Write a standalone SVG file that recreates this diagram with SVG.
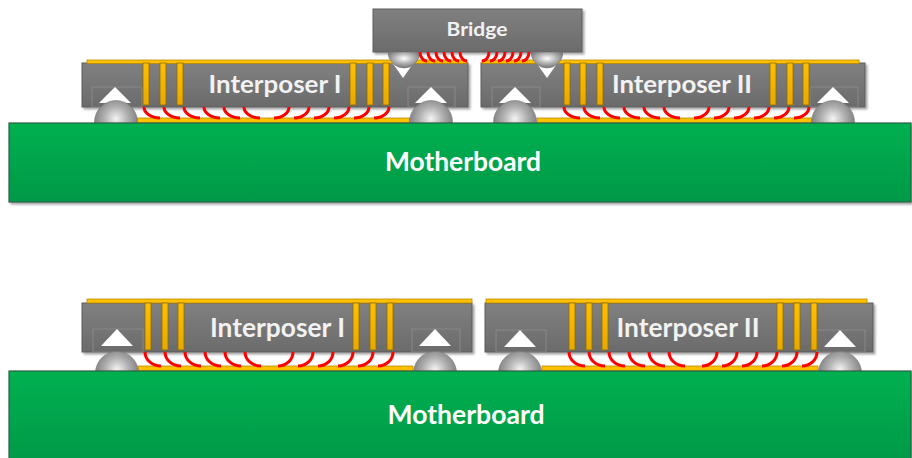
<svg xmlns="http://www.w3.org/2000/svg" width="912" height="458" viewBox="0 0 912 458">
  <defs>
    <style>
      .body { fill: url(#gBody); stroke: #5c5c5c; stroke-width: 1; filter: url(#sh); }
      .pad { fill: none; stroke: #8e8e8e; stroke-width: 0.8; }
      .strip { fill: #ffc000; stroke: #b88a00; stroke-width: 0.8; }
      .via { fill: url(#gVia); stroke: #8f6c00; stroke-width: 0.8; }
      .tri { fill: #ffffff; }
      .ball { fill: url(#gBall); stroke: #7a7a7a; stroke-width: 0.6; }
      .bump { fill: url(#gBump); stroke: #7a7a7a; stroke-width: 0.6; }
      .wire { fill: none; stroke: #ff0000; stroke-width: 3; }
      .board { fill: url(#gBoard); stroke: #2f5f45; stroke-width: 1.2; filter: url(#sh); }
      .lbl { font-family: Lato, "Open Sans", "Liberation Sans", sans-serif; font-weight: bold; fill: #f2f2f2; text-anchor: middle; }
      .lbl.mb { fill: #ffffff; }
    </style>
    <filter id="sh" x="-5%" y="-20%" width="110%" height="150%">
      <feDropShadow dx="2" dy="2" stdDeviation="1.2" flood-color="#000" flood-opacity="0.35"/>
    </filter>
    <linearGradient id="gBody" x1="0" y1="0" x2="0" y2="1">
      <stop offset="0" stop-color="#808080"/>
      <stop offset="1" stop-color="#6b6b6b"/>
    </linearGradient>
    <linearGradient id="gVia" x1="0" y1="0" x2="0" y2="1">
      <stop offset="0" stop-color="#ffc000"/>
      <stop offset="1" stop-color="#e8a800"/>
    </linearGradient>
    <linearGradient id="gBoard" x1="0" y1="0" x2="0" y2="1">
      <stop offset="0" stop-color="#00b050"/>
      <stop offset="1" stop-color="#009848"/>
    </linearGradient>
    <radialGradient id="gBall" cx="0.5" cy="0.42" r="0.55">
      <stop offset="0" stop-color="#f4f4f4"/>
      <stop offset="0.5" stop-color="#b0b0b0"/>
      <stop offset="1" stop-color="#7a7a7a"/>
    </radialGradient>
    <radialGradient id="gBump" cx="0.5" cy="0.4" r="0.55">
      <stop offset="0" stop-color="#ffffff"/>
      <stop offset="0.55" stop-color="#b4b4b4"/>
      <stop offset="1" stop-color="#7c7c7c"/>
    </radialGradient>
    <!-- wire shapes: left-leaning and right-leaning quarter arcs -->
    <path id="aL" class="wire" d="M0,0 A16,11 0 0 0 16,11"/>
    <path id="aR" class="wire" d="M0,11 A15,11 0 0 0 15,0"/>
    <path id="bL" class="wire" d="M0,0 A16,14 0 0 0 16,14"/>
    <path id="bR" class="wire" d="M0,14 A15,14 0 0 0 15,0"/>
    <path id="cL" class="wire" d="M0,0 A7,9 0 0 0 7,9"/>
    <path id="cR" class="wire" d="M0,9 A7,9 0 0 0 7,0"/>
  </defs>

  <rect width="912" height="458" fill="#ffffff"/>

  <!-- ===== Upper assembly ===== -->
  <g id="interposer1-top">
    <rect class="body" x="82" y="63" width="386" height="44"/>
    <rect class="strip" x="87" y="60" width="380" height="3.5"/>
    <rect class="pad" x="92" y="87" width="50" height="20"/>
    <rect class="pad" x="408" y="87" width="47" height="20"/>
    <rect class="via" x="143" y="63" width="6" height="42"/>
    <rect class="via" x="160" y="63" width="6" height="42"/>
    <rect class="via" x="177" y="63" width="6" height="42"/>
    <rect class="via" x="350" y="63" width="6" height="42"/>
    <rect class="via" x="367" y="63" width="6" height="42"/>
    <rect class="via" x="383" y="63" width="6" height="42"/>
    <text class="lbl" x="275" y="93" font-size="25" textLength="133" lengthAdjust="spacingAndGlyphs">Interposer I</text>
    <rect class="strip" x="137" y="118" width="273" height="5"/>
    <polygon class="tri" points="115,87 99,103 131,103"/>
    <polygon class="tri" points="431,87 415,103 447,103"/>
    <circle class="ball" cx="116" cy="122" r="21.5"/>
    <circle class="ball" cx="431" cy="122" r="21.5"/>
  </g>

  <g id="interposer2-top">
    <rect class="body" x="481" y="63" width="384" height="44"/>
    <rect class="strip" x="482" y="60" width="377" height="3.5"/>
    <rect class="pad" x="492" y="87" width="48" height="20"/>
    <rect class="pad" x="810" y="87" width="48" height="20"/>
    <rect class="via" x="564" y="63" width="6" height="42"/>
    <rect class="via" x="580" y="63" width="6" height="42"/>
    <rect class="via" x="597" y="63" width="6" height="42"/>
    <rect class="via" x="770" y="63" width="6" height="42"/>
    <rect class="via" x="787" y="63" width="6" height="42"/>
    <rect class="via" x="803" y="63" width="6" height="42"/>
    <text class="lbl" x="682" y="93" font-size="25" textLength="140" lengthAdjust="spacingAndGlyphs">Interposer II</text>
    <rect class="strip" x="537" y="118" width="275" height="5"/>
    <polygon class="tri" points="515,87 499,103 531,103"/>
    <polygon class="tri" points="833,87 817,103 849,103"/>
    <circle class="ball" cx="515" cy="122" r="21.5"/>
    <circle class="ball" cx="833" cy="122" r="21.5"/>
  </g>

  <g id="bridge">
    <rect class="body" x="373" y="9" width="209" height="43"/>
    <text class="lbl" x="477" y="36" font-size="19" textLength="61" lengthAdjust="spacingAndGlyphs">Bridge</text>
    <polygon class="tri" points="389,58 417,58 403,78"/>
    <polygon class="tri" points="533,58 561,58 547,78"/>
    <path class="bump" d="M388,52 A16,16 0 0 0 420,52 Z"/>
    <path class="bump" d="M531,52 A16,16 0 0 0 563,52 Z"/>
  </g>

  <g id="motherboard-top">
    <rect class="board" x="9" y="123" width="902" height="79"/>
    <text class="lbl mb" x="463" y="171" font-size="26" textLength="156" lengthAdjust="spacingAndGlyphs">Motherboard</text>
  </g>

  <!-- ===== Lower assembly ===== -->
  <g id="interposer1-bottom">
    <rect class="body" x="82" y="303" width="390" height="49"/>
    <rect class="strip" x="87" y="299" width="385" height="4"/>
    <rect class="pad" x="93" y="329" width="50" height="23"/>
    <rect class="pad" x="412" y="329" width="48" height="23"/>
    <rect class="via" x="145" y="303" width="6" height="47"/>
    <rect class="via" x="162" y="303" width="6" height="47"/>
    <rect class="via" x="178" y="303" width="6" height="47"/>
    <rect class="via" x="353" y="303" width="6" height="47"/>
    <rect class="via" x="370" y="303" width="6" height="47"/>
    <rect class="via" x="387" y="303" width="6" height="47"/>
    <text class="lbl" x="277.5" y="337" font-size="26.5" textLength="135" lengthAdjust="spacingAndGlyphs">Interposer I</text>
    <rect class="strip" x="138" y="366" width="275" height="5"/>
    <polygon class="tri" points="117,329 101,346 133,346"/>
    <polygon class="tri" points="435,329 419,346 451,346"/>
    <circle class="ball" cx="117" cy="373" r="21.5"/>
    <circle class="ball" cx="435" cy="373" r="21.5"/>
  </g>

  <g id="interposer2-bottom">
    <rect class="body" x="485" y="303" width="388" height="49"/>
    <rect class="strip" x="486" y="299" width="381" height="4"/>
    <rect class="pad" x="496" y="330" width="50" height="22"/>
    <rect class="pad" x="817" y="330" width="48" height="22"/>
    <rect class="via" x="569" y="303" width="6" height="47"/>
    <rect class="via" x="586" y="303" width="6" height="47"/>
    <rect class="via" x="602" y="303" width="6" height="47"/>
    <rect class="via" x="777" y="303" width="6" height="47"/>
    <rect class="via" x="794" y="303" width="6" height="47"/>
    <rect class="via" x="811" y="303" width="6" height="47"/>
    <text class="lbl" x="688" y="337" font-size="26.5" textLength="143" lengthAdjust="spacingAndGlyphs">Interposer II</text>
    <rect class="strip" x="542" y="366" width="276" height="5"/>
    <polygon class="tri" points="520,330 504,347 536,347"/>
    <polygon class="tri" points="840,330 824,347 856,347"/>
    <circle class="ball" cx="520" cy="373" r="21.5"/>
    <circle class="ball" cx="840" cy="373" r="21.5"/>
  </g>

  <g id="motherboard-bottom">
    <rect class="board" x="9" y="371" width="902" height="95"/>
    <text class="lbl mb" x="466" y="424" font-size="26" textLength="157" lengthAdjust="spacingAndGlyphs">Motherboard</text>
  </g>

  <!-- ===== Red wiring between vias and strips ===== -->
  <g id="wires">
    <!-- upper Interposer I -->
    <use href="#aL" x="144" y="107"/><use href="#aL" x="164" y="107"/><use href="#aL" x="184" y="107"/>
    <use href="#aL" x="204" y="107"/><use href="#aL" x="224" y="107"/><use href="#aL" x="244" y="107"/>
    <use href="#aR" x="274" y="107"/><use href="#aR" x="294" y="107"/><use href="#aR" x="314" y="107"/>
    <use href="#aR" x="334" y="107"/><use href="#aR" x="354" y="107"/><use href="#aR" x="374" y="107"/>
    <!-- upper Interposer II -->
    <use href="#aL" x="564" y="107"/><use href="#aL" x="584" y="107"/><use href="#aL" x="604" y="107"/>
    <use href="#aL" x="624" y="107"/><use href="#aL" x="644" y="107"/><use href="#aL" x="664" y="107"/>
    <use href="#aR" x="694" y="107"/><use href="#aR" x="714" y="107"/><use href="#aR" x="734" y="107"/>
    <use href="#aR" x="754" y="107"/><use href="#aR" x="774" y="107"/><use href="#aR" x="794" y="107"/>
    <!-- bridge -->
    <use href="#cL" x="420" y="52"/><use href="#cL" x="428" y="52"/><use href="#cL" x="436" y="52"/>
    <use href="#cL" x="444" y="52"/><use href="#cL" x="452" y="52"/><use href="#cL" x="460" y="52"/>
    <use href="#cR" x="482" y="52"/><use href="#cR" x="490" y="52"/><use href="#cR" x="498" y="52"/>
    <use href="#cR" x="506" y="52"/><use href="#cR" x="514" y="52"/><use href="#cR" x="522" y="52"/>
    <!-- lower Interposer I -->
    <use href="#bL" x="145" y="352"/><use href="#bL" x="165" y="352"/><use href="#bL" x="185" y="352"/>
    <use href="#bL" x="205" y="352"/><use href="#bL" x="225" y="352"/><use href="#bL" x="245" y="352"/>
    <use href="#bR" x="278" y="352"/><use href="#bR" x="298" y="352"/><use href="#bR" x="318" y="352"/>
    <use href="#bR" x="338" y="352"/><use href="#bR" x="358" y="352"/><use href="#bR" x="378" y="352"/>
    <!-- lower Interposer II -->
    <use href="#bL" x="569" y="352"/><use href="#bL" x="589" y="352"/><use href="#bL" x="609" y="352"/>
    <use href="#bL" x="629" y="352"/><use href="#bL" x="649" y="352"/><use href="#bL" x="669" y="352"/>
    <use href="#bR" x="702" y="352"/><use href="#bR" x="722" y="352"/><use href="#bR" x="742" y="352"/>
    <use href="#bR" x="762" y="352"/><use href="#bR" x="782" y="352"/><use href="#bR" x="802" y="352"/>
  </g>
</svg>
